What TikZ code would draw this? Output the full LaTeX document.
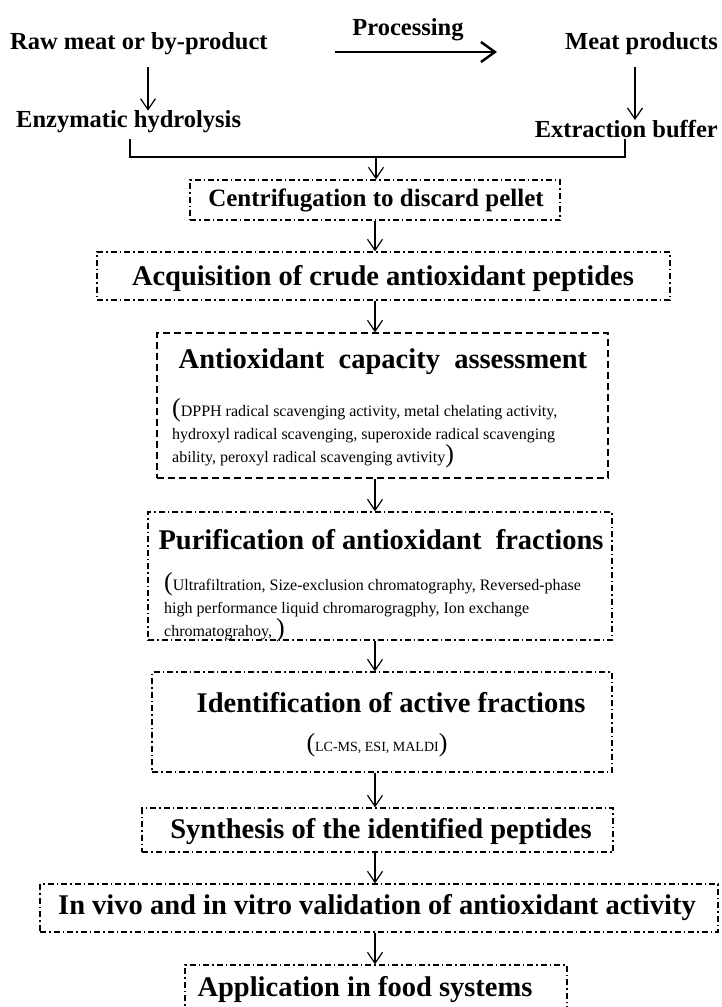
\documentclass[tikz,border=0pt]{standalone}
\usepackage{fontspec}
\setmainfont{Liberation Serif}
\usetikzlibrary{arrows.meta}
\begin{document}
\begin{tikzpicture}[x=1pt,y=-1pt,
  box/.style={draw, line width=1.3pt, inner sep=0pt},
  dd/.style={dash pattern=on 6pt off 3pt on 1.5pt off 3pt},
  ds/.style={dash pattern=on 7pt off 4pt},
  arr/.style={-{Straight Barb[length=11pt,width=15pt]}, line width=1.2pt},
  bigarr/.style={-{Straight Barb[length=14pt,width=20pt]}, line width=2.4pt},
  toplab/.style={font=\bfseries\fontsize{24.5}{26}\selectfont, inner sep=0pt},
  title/.style={font=\bfseries\fontsize{28.5}{30}\selectfont, inner sep=0pt},
  sub/.style={font=\fontsize{16}{23}\selectfont, inner sep=0pt, align=left}
]
\useasboundingbox (0,0) rectangle (721,1007);
\clip (0,0) rectangle (721,1007);
\newcommand{\bp}[1]{{\fontsize{26}{23}\selectfont #1}}

% top labels
\node[toplab, anchor=west] (raw) at (10,44) {Raw meat or by-product};
\node[toplab] (proc) at (408,30) {Processing};
\node[toplab, anchor=east] (meat) at (718,44) {Meat products};
\node[toplab, anchor=west] (enz) at (16,122) {Enzymatic hydrolysis};
\node[toplab, anchor=east] (ext) at (718,129) {Extraction buffer};

\coordinate (pa) at (335,52);
\coordinate (pb) at (497,52);
\draw[bigarr] (pa) -- (pb);

\coordinate (al) at (148,67);
\coordinate (ar) at (635,67);
\draw[arr] (al) -- (al |- enz.north);
\draw[arr] (ar) -- (ar |- ext.north);

% boxes
\node[box,dd,minimum width=370pt,minimum height=40pt] (b1) at (375,200) {};
\node[box,dd,minimum width=573pt,minimum height=48pt] (b2) at (383.5,276) {};
\node[box,ds,minimum width=451pt,minimum height=145pt] (b3) at (382.5,405.5) {};
\node[box,dd,minimum width=464pt,minimum height=128pt] (b4) at (380,576) {};
\node[box,dd,minimum width=460pt,minimum height=100pt] (b5) at (382,722) {};
\node[box,dd,minimum width=471pt,minimum height=44pt] (b6) at (377.5,830) {};
\node[box,dd,minimum width=678pt,minimum height=48pt] (b7) at (379,908) {};
\node[box,dd,minimum width=382pt,minimum height=70pt] (b8) at (376,1000) {};

% junction
\coordinate (jl) at (130,157);
\coordinate (jr) at (625,157);
\coordinate (jm) at (376,157);
\draw[line width=1.2pt] ([yshift=-6pt]enz.south -| jl) -- (jl) -- (jr) -- ([yshift=-1pt]ext.south -| jr);
\draw[arr] (jm) -- (jm |- b1.north);

% texts
\node[font=\bfseries\fontsize{25}{27}\selectfont, inner sep=0pt] (t1) at (376,200) {Centrifugation to discard pellet};
\node[title] (t2) at (383,278) {Acquisition of crude antioxidant peptides};
\node[title] (t3) at (383,362) {Antioxidant\ \ capacity\ \ assessment};
\node[sub, anchor=north west] (s3) at (172,398) {\bp{(}DPPH radical scavenging activity, metal chelating activity,\\hydroxyl radical scavenging, superoxide radical scavenging\\ability, peroxyl radical scavenging avtivity\bp{)}};
\node[title] (t4) at (381,540) {Purification of antioxidant\ \ fractions};
\node[sub, anchor=north west] (s4) at (164,572) {\bp{(}Ultrafiltration, Size-exclusion chromatography, Reversed-phase\\high performance liquid chromarogragphy, Ion exchange\\chromatograhoy, \bp{)}};
\node[title] (t5) at (391,703) {Identification of active fractions};
\node[font=\fontsize{14}{16}\selectfont, inner sep=0pt] (s5) at (377,745) {\bp{(}LC-MS, ESI, MALDI\bp{)}};
\node[title] (t6) at (381,832) {Synthesis of the identified peptides};
\node[title] (t7) at (377,908) {In vivo and in vitro validation of antioxidant activity};
\node[title] (t8) at (365,990) {Application in food systems};

% arrows between boxes
\draw[arr] (b1.south) -- (b1.south |- b2.north);
\draw[arr] (b2.south -| b1.south) -- (b1.south |- b3.north);
\draw[arr] (b3.south -| b1.south) -- (b1.south |- b4.north);
\draw[arr] (b4.south -| b1.south) -- (b1.south |- b5.north);
\draw[arr] (b5.south -| b1.south) -- (b1.south |- b6.north);
\draw[arr] (b6.south -| b1.south) -- (b1.south |- b7.north);
\draw[arr] (b7.south -| b1.south) -- (b1.south |- b8.north);
\end{tikzpicture}
\end{document}
